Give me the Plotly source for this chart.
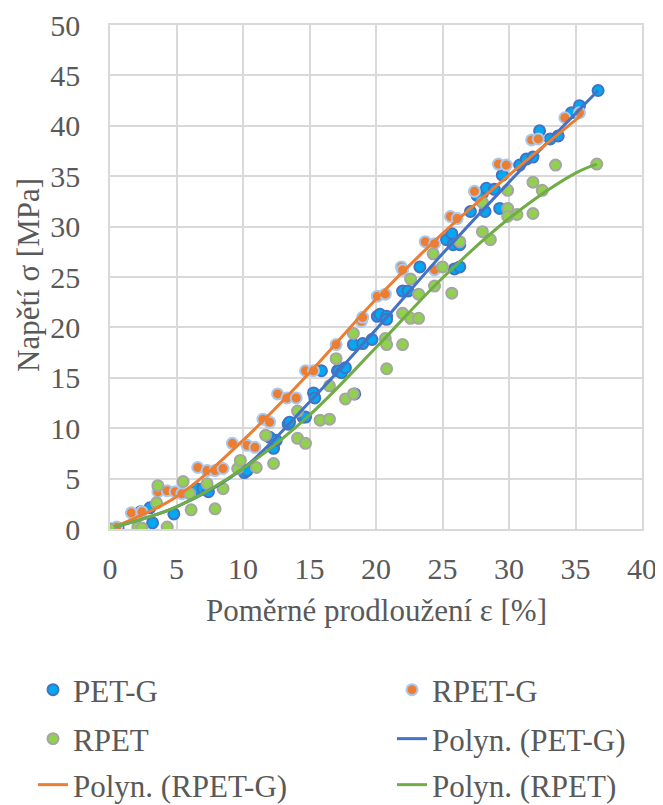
import plotly.graph_objects as go

# ---------------- data ----------------
petg_x = [0, 0.6, 2.3, 3.0, 3.2, 4.8, 6.5, 7.0, 7.4, 10.1, 10.3, 12.0, 12.3, 12.5, 13.4, 13.5, 14.5, 14.7,
          15.3, 15.4, 15.9, 17.1, 17.2, 17.4, 17.7, 18.3, 18.4, 19.0, 19.7, 20.1, 20.3, 20.8, 20.8, 22.0,
          22.4, 23.3, 25.3, 25.7, 25.8, 25.9, 26.3, 26.3, 27.1, 27.6, 28.0, 28.2, 28.3, 28.9, 29.3, 29.5,
          30.8, 31.3, 31.8, 32.3, 33.1, 33.7, 34.7, 35.3, 36.7]
petg_y = [0, 0.1, 1.7, 2.1, 0.6, 1.5, 4.0, 4.0, 3.7, 5.6, 5.8, 9.1, 8.0, 8.8, 10.4, 10.6, 11.1, 11.1,
          13.5, 13.0, 15.7, 15.7, 15.7, 15.5, 16.0, 18.3, 13.4, 18.4, 18.8, 21.1, 21.3, 21.1, 20.8, 23.6,
          23.6, 26.0, 28.7, 29.3, 28.2, 25.8, 28.2, 26.0, 31.5, 33.1, 33.3, 31.5, 33.8, 33.7, 31.8, 35.1,
          36.1, 36.7, 36.9, 39.5, 38.7, 39.0, 41.3, 42.0, 43.5]

rpetg_x = [0.5, 1.6, 2.4, 3.6, 4.3, 4.9, 5.4, 6.6, 7.3, 7.9, 8.5, 9.2, 10.3, 10.9, 11.5, 12.0, 12.6,
           13.3, 14.0, 14.7, 15.3, 17.0, 18.9, 19.0, 20.1, 20.7, 21.9, 22.0, 23.7, 24.4, 24.4, 25.6,
           26.1, 27.4, 29.2, 29.8, 31.7, 32.2, 34.2, 35.3]
rpetg_y = [0.2, 1.6, 1.7, 3.7, 3.8, 3.7, 3.5, 6.1, 5.8, 5.8, 6.0, 8.5, 8.3, 8.1, 10.9, 10.6, 13.4,
           13.0, 13.0, 15.7, 15.7, 18.3, 20.6, 21.0, 23.1, 23.3, 26.0, 25.7, 28.5, 28.3, 25.7, 31.0,
           30.8, 33.5, 36.2, 36.1, 38.6, 38.7, 40.8, 41.3]

rpet_x = [0, 2.1, 2.4, 4.3, 3.6, 3.5, 5.5, 6.0, 6.1, 7.3, 7.9, 8.5, 9.6, 9.8, 11.0, 12.3, 11.7, 14.1,
          14.1, 14.7, 15.8, 16.5, 16.5, 17.0, 17.7, 18.3, 18.3, 20.7, 20.8, 20.8, 22.0, 22.0, 22.6, 22.6,
          23.2, 23.2, 24.3, 24.4, 25.0, 25.7, 26.3, 28.0, 28.0, 28.6, 29.9, 29.9, 29.9, 30.6, 31.8, 31.8,
          32.5, 33.5, 36.6]
rpet_y = [0, 0.2, 0.1, 0.2, 4.3, 2.6, 4.7, 3.5, 1.9, 4.5, 2.0, 4.0, 6.0, 6.8, 6.1, 6.5, 9.3, 11.7,
          9.0, 8.5, 10.8, 10.9, 14.2, 16.9, 12.9, 13.4, 19.4, 18.9, 18.3, 15.9, 18.3, 21.4, 20.9, 24.8,
          20.9, 23.3, 27.3, 24.1, 26.0, 23.4, 28.5, 29.5, 32.4, 28.7, 33.6, 31.8, 31.0, 31.2, 31.3, 34.4,
          33.6, 36.1, 36.2]

# polynomial trendlines
trend_petg_x = [0.3, 5, 10, 15, 20, 25, 30, 36.7]
trend_petg_y = [0.2, 2.2, 6.0, 12.6, 19.8, 27.3, 34.4, 43.5]
trend_rpetg_x = [0.3, 5, 10, 15, 20, 25, 30, 35.5]
trend_rpetg_y = [0.2, 3.2, 8.8, 15.5, 22.8, 29.3, 35.1, 41.1]
trend_rpet_x = [0.3, 5, 10, 15, 20, 25, 30, 35, 36.6]
trend_rpet_y = [0.2, 2.2, 6.0, 11.3, 18.0, 24.9, 30.8, 35.3, 36.2]

x_ticks = [0, 5, 10, 15, 20, 25, 30, 35, 40]
y_ticks = [0, 5, 10, 15, 20, 25, 30, 35, 40, 45, 50]

FONT = "Liberation Serif"
GREY = "#595959"
FS = 31
TFS = 30

# page body has an 8 px margin -> figure is drawn 8 px lower/right
W, H = 655, 797
L, T, R, B = 102, 17, 21, 276
PW, PH = W - L - R, H - T - B


def px(fx):   # figure x pixel -> paper x
    return (fx - L) / PW


def py(fy):   # figure y pixel -> paper y
    return (H - B - fy) / PH


fig = go.Figure()

fig.add_trace(go.Scatter(x=petg_x, y=petg_y, mode="markers", name="PET-G", legend="legend",
                         marker=dict(size=11, color="#00A9F0", line=dict(color="#4472C4", width=2))))
fig.add_trace(go.Scatter(x=rpetg_x, y=rpetg_y, mode="markers", name="RPET-G", legend="legend2",
                         marker=dict(size=11, color="#ED7D31", line=dict(color="#A9C8EB", width=2))))
fig.add_trace(go.Scatter(x=rpet_x, y=rpet_y, mode="markers", name="RPET", legend="legend3",
                         marker=dict(size=11, color="#92D050", line=dict(color="#A5A5A5", width=2))))
fig.add_trace(go.Scatter(x=trend_petg_x, y=trend_petg_y, mode="lines", name="Polyn. (PET-G)", legend="legend4",
                         line=dict(color="#4472C4", width=3, shape="spline")))
fig.add_trace(go.Scatter(x=trend_rpetg_x, y=trend_rpetg_y, mode="lines", name="Polyn. (RPET-G)", legend="legend5",
                         line=dict(color="#ED7D31", width=3, shape="spline")))
fig.add_trace(go.Scatter(x=trend_rpet_x, y=trend_rpet_y, mode="lines", name="Polyn. (RPET)", legend="legend6",
                         line=dict(color="#70AD47", width=3, shape="spline")))
fig.update_traces(showlegend=True)

axis_common = dict(showgrid=True, gridcolor="#D9D9D9", gridwidth=1.5, zeroline=False,
                   showline=True, linecolor="#D9D9D9", linewidth=1.5, mirror=True,
                   ticks="", automargin=False, ticklabeloverflow="allow",
                   tickfont=dict(family=FONT, size=TFS, color=GREY))

fig.update_xaxes(range=[0, 40], tickvals=x_ticks, ticklabelstandoff=12, **axis_common)
fig.update_yaxes(range=[0, 50], tickvals=y_ticks, ticklabelstandoff=22, **axis_common)

fig.add_annotation(text="Poměrné prodloužení ε [%]", xref="paper", yref="paper",
                   x=0.5, y=py(602), showarrow=False, xanchor="center", yanchor="middle",
                   font=dict(family=FONT, size=FS, color=GREY))
fig.add_annotation(text="Napětí σ [MPa]", xref="paper", yref="paper",
                   x=px(20), y=py(267), showarrow=False, textangle=-90,
                   xanchor="center", yanchor="middle",
                   font=dict(family=FONT, size=FS, color=GREY))

leg = dict(orientation="v", xanchor="left", yanchor="middle", bgcolor="rgba(0,0,0,0)",
           font=dict(family=FONT, size=FS, color=GREY))
col1, col2 = px(25), px(384)
row1, row2, row3 = py(682), py(731), py(777)

fig.update_layout(
    width=W, height=H,
    margin=dict(l=L, r=R, t=T, b=B, autoexpand=False),
    paper_bgcolor="white", plot_bgcolor="white",
    showlegend=True,
    font=dict(family=FONT, size=FS, color=GREY),
    legend=dict(leg, x=col1, y=row1),
    legend2=dict(leg, x=col2, y=row1),
    legend3=dict(leg, x=col1, y=row2),
    legend4=dict(leg, x=col2, y=row2),
    legend5=dict(leg, x=col1, y=row3),
    legend6=dict(leg, x=col2, y=row3),
)

fig.write_html("out.html")
